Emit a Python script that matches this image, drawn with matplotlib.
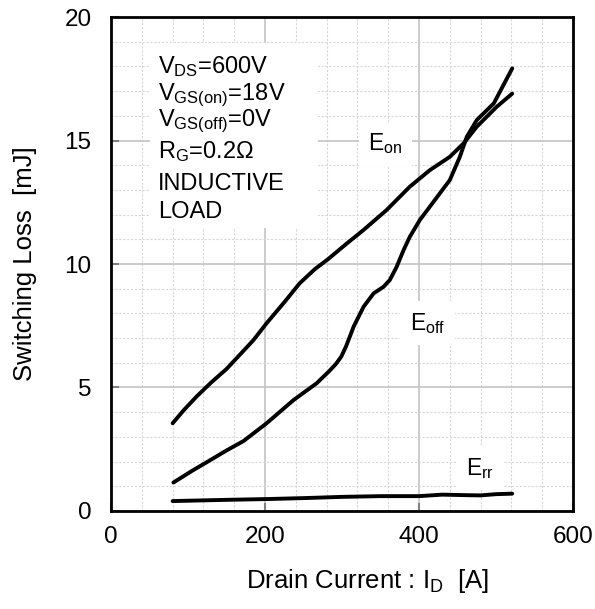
import matplotlib
matplotlib.use('Agg')
import matplotlib.pyplot as plt
from matplotlib.patches import Rectangle

plt.rcParams['font.family'] = ['Liberation Sans', 'DejaVu Sans']
plt.rcParams['mathtext.fontset'] = 'custom'
plt.rcParams['mathtext.rm'] = 'Liberation Sans'
plt.rcParams['mathtext.it'] = 'Liberation Sans'

# Switching loss vs drain current
eon_x = [80, 95, 111, 130, 150, 168, 185, 202, 225, 245, 265, 282, 305, 328, 358, 388, 414, 440, 458, 475, 501, 521]
eon_y = [3.55, 4.1, 4.63, 5.2, 5.75, 6.35, 6.92, 7.6, 8.45, 9.22, 9.8, 10.2, 10.8, 11.38, 12.19, 13.13, 13.8, 14.34, 14.89, 15.56, 16.37, 16.9]

eoff_x = [81, 105, 129, 150, 172, 202, 237, 267, 283, 292, 299, 305, 310, 315, 328, 341, 354, 362, 371, 380, 388, 401, 414, 440, 453, 462, 475, 497, 521]
eoff_y = [1.15, 1.62, 2.06, 2.45, 2.83, 3.55, 4.49, 5.17, 5.65, 5.95, 6.25, 6.65, 7.05, 7.46, 8.27, 8.81, 9.08, 9.35, 9.89, 10.57, 11.1, 11.78, 12.32, 13.4, 14.34, 15.15, 15.83, 16.5, 17.92]

err_x = [80, 150, 200, 250, 300, 350, 400, 430, 460, 480, 500, 521]
err_y = [0.40, 0.45, 0.48, 0.52, 0.57, 0.60, 0.60, 0.66, 0.64, 0.63, 0.68, 0.70]

conditions = [r'V$_{\mathrm{DS}}$=600V', r'V$_{\mathrm{GS(on)}}$=18V', r'V$_{\mathrm{GS(off)}}$=0V',
              r'R$_{\mathrm{G}}$=0.2Ω', 'INDUCTIVE', 'LOAD']
cond_y = [17.73, 16.64, 15.59, 14.29, 13.0, 11.86]

fig = plt.figure(figsize=(5.95, 6.09), dpi=100)
ax = fig.add_axes([0.1866, 0.161, 0.7765, 0.811])

ax.set_xlim(0, 600)
ax.set_ylim(0, 20)
ax.set_xticks([0, 200, 400, 600])
ax.set_yticks([0, 5, 10, 15, 20])
ax.set_xticks(range(0, 601, 40), minor=True)
ax.set_yticks(range(0, 21, 1), minor=True)
ax.grid(which='major', color='#c4c4c4', lw=1.2, ls='-', zorder=0)
ax.grid(which='minor', color='#d6d6d6', lw=0.8, ls=(0, (2, 1.5)), zorder=0)
ax.set_axisbelow(True)
ax.tick_params(which='major', direction='in', length=6, width=1.5, color='#808080', labelsize=17.5)
ax.tick_params(axis='x', pad=11)
ax.tick_params(axis='y', pad=14)
ax.tick_params(which='minor', length=0)
for s in ax.spines.values():
    s.set_linewidth(2)

# white box behind the conditions text
ax.add_patch(Rectangle((50.6, 11.46), 218.4, 7.49, facecolor='white', edgecolor='none', zorder=1))
for t, y in zip(conditions, cond_y):
    ax.text(61, y, t, fontsize=17, va='baseline', ha='left', zorder=2)

ax.plot(eon_x, eon_y, color='black', lw=2.8, zorder=3, solid_capstyle='round', solid_joinstyle='round')
ax.plot(eoff_x, eoff_y, color='black', lw=2.8, zorder=3, solid_capstyle='round', solid_joinstyle='round')
ax.plot(err_x, err_y, color='black', lw=2.8, zorder=3, solid_capstyle='round', solid_joinstyle='round')

box = dict(facecolor='white', edgecolor='none', pad=7)
ax.text(334, 14.6, r'E$_{\mathrm{on}}$', fontsize=16.5, va='baseline', bbox=box, zorder=2)
ax.text(388, 7.33, r'E$_{\mathrm{off}}$', fontsize=16.5, va='baseline', bbox=box, zorder=2)
ax.text(461, 1.46, r'E$_{\mathrm{rr}}$', fontsize=16.5, va='baseline', bbox=box, zorder=2)

ax.set_xlabel(r'Drain Current : I$_{\mathrm{D}}$  [A]', fontsize=18.5, va='baseline')
ax.xaxis.set_label_coords(0.555, -0.155)
ax.set_ylabel('Switching Loss  [mJ]', fontsize=18.5, va='center')
ax.yaxis.set_label_coords(-0.186, 0.5)

fig.savefig('out.png', dpi=100)
